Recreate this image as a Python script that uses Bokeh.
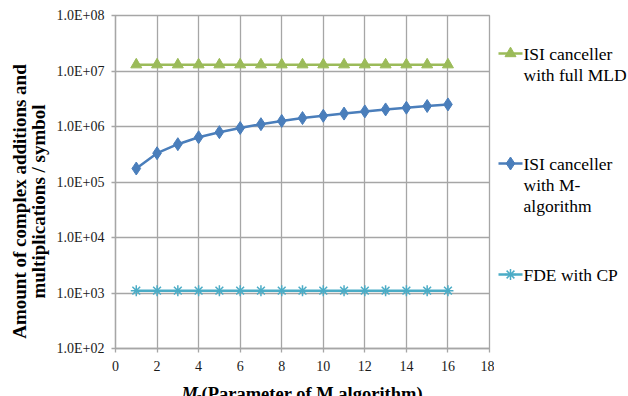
import math
from bokeh.plotting import figure
from bokeh.models import Range1d, FixedTicker, CustomJSTickFormatter
from bokeh.layouts import row, column
from bokeh.embed import file_html
from bokeh.resources import INLINE
from bokeh.core.properties import value

# ---- data ----
mc = [1, 2, 3, 4, 5, 6, 7, 8, 9, 10, 11, 12, 13, 14, 15, 16]
full_mld = [1.3e7, 1.3e7, 1.3e7, 1.3e7, 1.3e7, 1.3e7, 1.3e7, 1.3e7,
            1.3e7, 1.3e7, 1.3e7, 1.3e7, 1.3e7, 1.3e7, 1.3e7, 1.3e7]
m_alg = [1.75e5, 3.3e5, 4.8e5, 6.4e5, 7.9e5, 9.4e5, 1.1e6, 1.26e6,
         1.42e6, 1.56e6, 1.71e6, 1.87e6, 2.03e6, 2.18e6, 2.34e6, 2.5e6]
fde_cp = [1.1e3, 1.1e3, 1.1e3, 1.1e3, 1.1e3, 1.1e3, 1.1e3, 1.1e3,
          1.1e3, 1.1e3, 1.1e3, 1.1e3, 1.1e3, 1.1e3, 1.1e3, 1.1e3]
x_ticks = [0, 2, 4, 6, 8, 10, 12, 14, 16, 18]
y_ticks = [1e2, 1e3, 1e4, 1e5, 1e6, 1e7, 1e8]

series_names = ["ISI canceller\nwith full MLD", "ISI canceller\nwith M-\nalgorithm", "FDE with CP"]
colors = ["#9BBB59", "#4A7EBB", "#4BACC6"]
y_title = ["Amount of complex additions and", "multiplications / symbol"]
x_title = ["M", "c", "(Parameter of M algorithm)"]

SERIF = "Liberation Serif"
GRID = "#a6a6a6"
H = 396
W_LEFT, W_MAIN = 50, 444
W_LEG = 628 - W_LEFT - W_MAIN
H_MAIN, H_XLAB = 376, 20
FRAME_W = 374


def blank(width, height, xr, yr):
    f = figure(title=None, frame_width=width, frame_height=height, x_range=xr, y_range=yr,
               output_backend="svg", toolbar_location=None,
               min_border=0, min_border_left=0, min_border_right=0,
               min_border_top=0, min_border_bottom=0,
               x_axis_location=None, y_axis_location=None)
    f.outline_line_color = None
    f.xgrid.visible = False
    f.ygrid.visible = False
    return f


# ---- main plot ----
p = figure(title=None, width=W_MAIN, height=H_MAIN, x_range=Range1d(0, 18),
           y_range=Range1d(1e2, 1e8), y_axis_type="log",
           output_backend="svg", toolbar_location=None,
           min_border_left=65, min_border_right=5, min_border_top=15, min_border_bottom=28)
p.outline_line_color = GRID
p.outline_line_width = 1.3

p.xaxis.ticker = FixedTicker(ticks=x_ticks)
p.yaxis.ticker = FixedTicker(ticks=y_ticks)
p.yaxis.formatter = CustomJSTickFormatter(code="""
const e = Math.round(Math.log10(tick));
return '1.0E+' + (e < 10 ? '0' : '') + e;
""")
p.axis.axis_line_color = GRID
p.axis.axis_line_width = 1.3
p.axis.major_tick_line_color = GRID
p.axis.major_tick_line_width = 1.3
p.axis.major_tick_out = 4
p.axis.major_tick_in = 0
p.axis.minor_tick_line_color = None
p.axis.major_label_text_font = SERIF
p.axis.major_label_text_font_size = "14px"
p.axis.major_label_text_font_style = "normal"
p.axis.major_label_text_color = "#1a1a1a"
p.yaxis.major_label_standoff = 7
p.xaxis.major_label_standoff = 8

p.grid.grid_line_color = GRID
p.grid.grid_line_width = 1.3
p.ygrid.minor_grid_line_color = None

p.line(mc, full_mld, line_color=colors[0], line_width=2.5)
p.scatter(mc, full_mld, marker="triangle", size=11, fill_color=colors[0], line_color=colors[0])
p.line(mc, m_alg, line_color=colors[1], line_width=2.5)
p.scatter(mc, m_alg, marker="diamond", size=13, fill_color=colors[1], line_color=colors[1])
p.line(mc, fde_cp, line_color=colors[2], line_width=2.5)
p.scatter(mc, fde_cp, marker="asterisk", size=11, line_color=colors[2], line_width=1.5)

# ---- y-axis title strip (pixel coordinates, y up) ----
yl = blank(W_LEFT, H, Range1d(0, W_LEFT), Range1d(0, H))
yl.text(x=[19, 38], y=[195, 195], text=y_title, angle=math.pi / 2,
        text_font=value(SERIF), text_font_size="19px", text_font_style="bold",
        text_align="center", text_baseline="middle", text_color="black")

# ---- x-axis title strip (aligned with the plot frame; pixel coordinates, y down) ----
xl = blank(FRAME_W, H_XLAB, Range1d(0, FRAME_W), Range1d(H_XLAB, 0))
xl.text(x=[66], y=[17.5], text=[x_title[0]], text_font=value(SERIF), text_font_size="18.5px",
        text_font_style="bold italic", text_align="left", text_baseline="alphabetic",
        text_color="black")
xl.text(x=[80], y=[19.5], text=[x_title[1]], text_font=value(SERIF), text_font_size="13px",
        text_font_style="bold italic", text_align="left", text_baseline="alphabetic",
        text_color="black")
xl.text(x=[86], y=[17.5], text=[x_title[2]], text_font=value(SERIF), text_font_size="18.5px",
        text_font_style="bold", text_align="left", text_baseline="alphabetic",
        text_color="black")

# ---- legend strip (pixel coordinates, y down) ----
lg = blank(W_LEG, H, Range1d(0, W_LEG), Range1d(H, 0))
leg_y = [53, 163, 274]
markers = ["triangle", "diamond", "asterisk"]
msizes = [11, 13, 11]
line_step = 21
for name, c, yy, mk, ms in zip(series_names, colors, leg_y, markers, msizes):
    lg.line([4, 28], [yy, yy], line_color=c, line_width=2.5)
    if mk == "asterisk":
        lg.scatter([16], [yy], marker=mk, size=ms, line_color=c, line_width=1.5)
    else:
        lg.scatter([16], [yy], marker=mk, size=ms, fill_color=c, line_color=c)
    lines = name.split("\n")
    lg.text(x=[29] * len(lines), y=[yy + i * line_step for i in range(len(lines))], text=lines,
            text_font=value(SERIF), text_font_size="17.5px", text_baseline="middle",
            text_align="left", text_color="black")

layout = row(yl, column(p, xl, spacing=0), lg, spacing=0)
open("out.html", "w").write(file_html(layout, INLINE))
